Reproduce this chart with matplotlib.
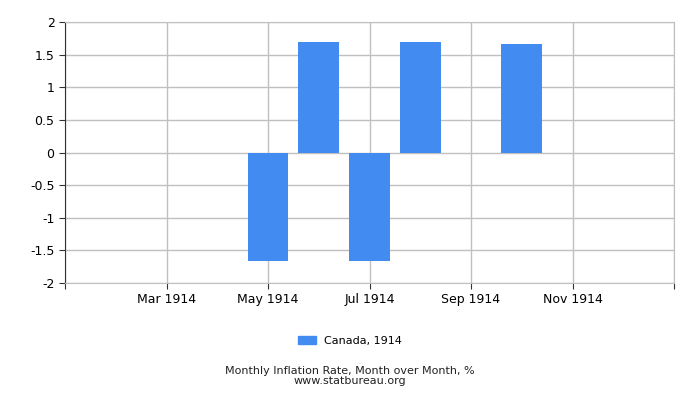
import numpy as np
import matplotlib.pyplot as plt
from matplotlib.patches import Patch

# month index: 0 = Jan 1914
months = [4, 5, 6, 7, 9]
values = [-1.67, 1.69, -1.67, 1.69, 1.67]
tick_pos = [2, 4, 6, 8, 10]
tick_labels = ['Mar 1914', 'May 1914', 'Jul 1914', 'Sep 1914', 'Nov 1914']
series_name = 'Canada, 1914'
bar_color = '#428bf0'

fig = plt.figure(figsize=(7, 4), dpi=100)
ax = fig.add_axes([65 / 700, 1 - 283 / 400, 609 / 700, 261 / 400])

ax.bar(months, values, width=0.8, color=bar_color, zorder=3)

ax.set_xlim(0, 12)
ax.set_ylim(-2, 2)
ax.set_yticks(np.arange(-2, 2.01, 0.5))
ax.set_yticklabels(['-2', '-1.5', '-1', '-0.5', '0', '0.5', '1', '1.5', '2'])
ax.set_xticks(range(0, 13, 2))
ax.set_xticklabels([''] + tick_labels + [''])
ax.grid(True, color='#c0c0c0', linewidth=1, zorder=0)

for s in ['top', 'right', 'bottom']:
    ax.spines[s].set_color('#c0c0c0')
ax.spines['left'].set_color('#333333')
ax.tick_params(axis='both', colors='#333333', labelcolor='black', labelsize=9, length=4)

fig.legend(handles=[Patch(color=bar_color, label=series_name)], loc='center',
           bbox_to_anchor=(0.5, 1 - 341 / 400), frameon=False, fontsize=8,
           handlelength=1.6, handleheight=0.7)
fig.text(0.5, 1 - 371 / 400, 'Monthly Inflation Rate, Month over Month, %',
         ha='center', va='center', fontsize=8, color='#222222')
fig.text(0.5, 1 - 381 / 400, 'www.statbureau.org',
         ha='center', va='center', fontsize=8, color='#222222')

fig.savefig('out.png', dpi=100)
